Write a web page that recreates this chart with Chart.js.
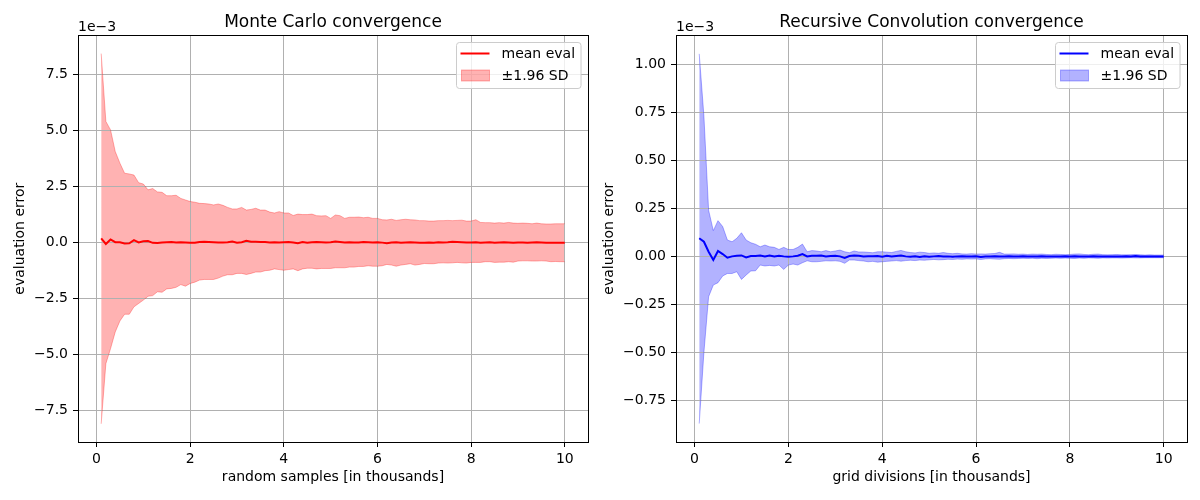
<!DOCTYPE html>
<html>
<head>
<meta charset="utf-8">
<script src="https://cdn.jsdelivr.net/npm/chart.js@4.4.1/dist/chart.umd.min.js"></script>
<style>
  body { margin: 0; background: #fff; }
  #wrap { position: relative; width: 1200px; height: 500px; }
  canvas { position: absolute; top: 0; }
</style>
</head>
<body>
<div id="wrap">
  <canvas id="mc" width="600" height="500" style="left:0"></canvas>
  <canvas id="rc" width="600" height="500" style="left:600px"></canvas>
</div>
<script>
// x positions, in thousands (samples for MC, grid divisions for RC)
const steps = [0.1,0.2,0.3,0.4,0.5,0.6,0.7,0.8,0.9,1.0,
  1.1,1.2,1.3,1.4,1.5,1.6,1.7,1.8,1.9,2.0,
  2.1,2.2,2.3,2.4,2.5,2.6,2.7,2.8,2.9,3.0,
  3.1,3.2,3.3,3.4,3.5,3.6,3.7,3.8,3.9,4.0,
  4.1,4.2,4.3,4.4,4.5,4.6,4.7,4.8,4.9,5.0,
  5.1,5.2,5.3,5.4,5.5,5.6,5.7,5.8,5.9,6.0,
  6.1,6.2,6.3,6.4,6.5,6.6,6.7,6.8,6.9,7.0,
  7.1,7.2,7.3,7.4,7.5,7.6,7.7,7.8,7.9,8.0,
  8.1,8.2,8.3,8.4,8.5,8.6,8.7,8.8,8.9,9.0,
  9.1,9.2,9.3,9.4,9.5,9.6,9.7,9.8,9.9,10.0];

// Monte Carlo, values in units of 1e-3
const mcMean = [0.18,-0.07,0.13,0.01,0.01,-0.05,-0.04,0.10,0.00,0.05,
  0.06,-0.02,-0.03,0.00,0.01,0.02,0.00,0.01,0.00,-0.01,
  -0.02,0.02,0.03,0.02,0.01,0.00,0.00,0.01,0.04,-0.01,
  0.01,0.07,0.03,0.03,0.02,0.02,0.00,0.01,0.00,0.01,
  0.02,0.00,-0.04,0.02,-0.01,0.01,0.02,0.01,0.00,0.01,
  0.04,0.02,0.00,0.01,0.00,0.00,0.02,0.01,0.00,0.01,
  -0.01,-0.04,0.00,0.01,-0.02,0.00,0.01,0.00,-0.01,-0.01,
  0.00,-0.01,0.01,0.00,0.01,0.03,0.02,0.01,0.00,0.00,
  0.01,-0.01,0.00,0.01,-0.01,0.00,0.01,0.00,-0.01,0.00,
  0.00,-0.01,0.00,0.01,0.00,-0.01,-0.02,-0.02,-0.01,-0.01];
const mcUpper = [8.41,5.39,5.01,4.05,3.53,3.08,3.05,3.00,2.66,2.60,
  2.34,2.40,2.25,2.23,2.08,2.08,2.10,1.96,1.89,1.82,
  1.79,1.74,1.73,1.71,1.67,1.71,1.65,1.56,1.49,1.49,
  1.56,1.44,1.47,1.52,1.44,1.44,1.35,1.31,1.37,1.31,
  1.31,1.20,1.26,1.24,1.24,1.26,1.19,1.18,1.19,1.07,
  1.22,1.19,1.07,1.12,1.12,1.13,1.10,1.12,1.07,1.07,
  1.01,1.00,1.03,0.98,1.01,1.03,1.01,1.00,0.97,0.97,
  0.95,0.95,0.97,0.97,0.98,0.97,0.98,0.99,0.95,0.95,
  1.01,0.89,0.88,0.88,0.86,0.88,0.86,0.89,0.86,0.85,
  0.86,0.85,0.83,0.86,0.83,0.82,0.82,0.83,0.83,0.83];
const mcLower = [-8.08,-5.40,-4.73,-3.99,-3.50,-3.20,-3.20,-2.87,-2.72,-2.57,
  -2.40,-2.37,-2.20,-2.22,-2.07,-2.05,-2.00,-1.88,-1.95,-1.83,
  -1.77,-1.68,-1.65,-1.65,-1.65,-1.59,-1.50,-1.44,-1.44,-1.38,
  -1.38,-1.43,-1.38,-1.32,-1.32,-1.26,-1.24,-1.18,-1.21,-1.24,
  -1.21,-1.18,-1.26,-1.18,-1.15,-1.15,-1.18,-1.16,-1.16,-1.16,
  -1.13,-1.13,-1.13,-1.10,-1.10,-1.07,-1.07,-1.04,-1.06,-1.06,
  -1.04,-0.98,-1.01,-1.06,-1.01,-0.98,-0.95,-1.01,-0.98,-0.94,
  -0.95,-0.95,-0.92,-0.91,-0.92,-0.91,-0.89,-0.91,-0.92,-0.89,
  -0.89,-0.89,-0.86,-0.86,-0.89,-0.88,-0.88,-0.86,-0.88,-0.83,
  -0.82,-0.82,-0.83,-0.83,-0.82,-0.83,-0.86,-0.85,-0.86,-0.86];

// Recursive convolution, values in units of 1e-3
const rcMean = [0.094,0.076,0.024,-0.019,0.028,0.012,-0.007,0.000,0.003,0.005,
  -0.005,0.002,0.002,0.005,0.000,0.005,0.000,0.003,0.000,-0.002,
  0.000,0.003,0.012,0.000,0.003,0.003,0.005,0.000,0.002,0.003,
  0.000,-0.008,0.002,0.004,0.003,0.000,0.001,0.001,0.002,-0.002,
  0.003,0.000,0.002,0.004,0.000,-0.002,0.001,-0.003,0.000,-0.002,
  0.000,0.002,-0.001,0.000,-0.002,0.000,0.001,-0.001,0.000,0.001,
  -0.003,-0.001,0.000,0.001,0.000,-0.001,0.001,0.000,0.000,0.001,
  0.000,-0.001,0.000,0.001,0.000,0.000,-0.001,0.000,0.001,0.000,
  0.001,0.000,-0.001,0.000,0.001,0.000,0.000,-0.001,0.000,0.000,
  0.000,0.001,0.000,0.002,0.000,0.000,-0.001,0.000,0.000,0.000];
const rcUpper = [1.054,0.73,0.24,0.134,0.186,0.155,0.085,0.076,0.094,0.123,
  0.085,0.071,0.063,0.050,0.059,0.050,0.047,0.036,0.047,0.036,
  0.036,0.047,0.064,0.024,0.030,0.028,0.024,0.030,0.024,0.028,
  0.033,0.024,0.019,0.028,0.023,0.023,0.021,0.019,0.024,0.024,
  0.022,0.020,0.026,0.031,0.024,0.020,0.018,0.022,0.020,0.016,
  0.018,0.016,0.020,0.016,0.014,0.016,0.013,0.012,0.014,0.012,
  0.013,0.012,0.014,0.015,0.021,0.012,0.012,0.013,0.011,0.012,
  0.010,0.012,0.011,0.012,0.010,0.009,0.011,0.010,0.009,0.010,
  0.012,0.013,0.010,0.009,0.011,0.012,0.009,0.008,0.009,0.010,
  0.008,0.008,0.009,0.010,0.008,0.007,0.008,0.007,0.007,0.007];
const rcLower = [-0.87,-0.50,-0.21,-0.149,-0.137,-0.102,-0.089,-0.089,-0.080,-0.120,
  -0.097,-0.076,-0.075,-0.045,-0.050,-0.047,-0.050,-0.045,-0.068,-0.045,
  -0.040,-0.045,-0.033,-0.023,-0.028,-0.028,-0.026,-0.023,-0.024,-0.023,
  -0.026,-0.036,-0.019,-0.019,-0.022,-0.024,-0.028,-0.026,-0.030,-0.028,
  -0.026,-0.024,-0.022,-0.025,-0.022,-0.020,-0.022,-0.019,-0.020,-0.018,
  -0.016,-0.018,-0.017,-0.015,-0.016,-0.014,-0.015,-0.013,-0.014,-0.013,
  -0.016,-0.013,-0.012,-0.014,-0.015,-0.012,-0.011,-0.012,-0.011,-0.010,
  -0.011,-0.010,-0.012,-0.010,-0.011,-0.010,-0.009,-0.010,-0.009,-0.010,
  -0.011,-0.009,-0.010,-0.008,-0.009,-0.010,-0.008,-0.009,-0.008,-0.008,
  -0.009,-0.008,-0.007,-0.008,-0.008,-0.007,-0.007,-0.007,-0.007,-0.007];

const xTicks = [0, 2, 4, 6, 8, 10];
const mcTicks = [-7.5, -5.0, -2.5, 0.0, 2.5, 5.0, 7.5];
const rcTicks = [-0.75, -0.50, -0.25, 0.00, 0.25, 0.50, 0.75, 1.00];

Chart.defaults.font.family = 'DejaVu Sans';
Chart.defaults.color = '#000';

const tickFont = { family: 'DejaVu Sans', size: 14 };
const minus = s => s.replace('-', '\u2212');

// matplotlib-like extras: grid above the band, box frame, offset text, legend
const frame = {
  id: 'frame',
  beforeDatasetsDraw(chart) {
    chart.scales.x.drawGrid(chart.chartArea);
    chart.scales.y.drawGrid(chart.chartArea);
  },
  afterDraw(chart, args, opts) {
    const { ctx, chartArea: a } = chart;
    ctx.save();
    ctx.strokeStyle = '#000';
    ctx.lineWidth = 1;
    ctx.strokeRect(Math.round(a.left) + 0.5, Math.round(a.top) + 0.5,
      Math.round(a.right - a.left), Math.round(a.bottom - a.top));

    ctx.fillStyle = '#000';
    ctx.font = '14px "DejaVu Sans"';
    ctx.textAlign = 'left';
    ctx.textBaseline = 'alphabetic';
    ctx.fillText(opts.offsetText, a.left, a.top - 4);

    // legend box, upper right
    const items = chart.data.datasets.filter(d => d.label);
    const textW = Math.max(...items.map(d => ctx.measureText(d.label).width));
    const w = 45 + textW + 6, h = 46;
    const x0 = Math.round(a.right - 7 - w) + 0.5, y0 = Math.round(a.top + 7) + 0.5;
    ctx.beginPath();
    if (ctx.roundRect) ctx.roundRect(x0, y0, w, h, 3); else ctx.rect(x0, y0, w, h);
    ctx.fillStyle = 'rgba(255,255,255,0.8)';
    ctx.fill();
    ctx.strokeStyle = '#cccccc';
    ctx.stroke();

    ctx.textBaseline = 'middle';
    items.forEach((d, i) => {
      const cy = y0 + 11 + i * 22;
      if (d.fill) {
        ctx.fillStyle = d.backgroundColor;
        ctx.fillRect(x0 + 5, cy - 5.5, 28, 11);
        ctx.strokeStyle = d.borderColor;
        ctx.strokeRect(x0 + 5, cy - 5.5, 28, 11);
      } else {
        ctx.strokeStyle = d.borderColor;
        ctx.lineWidth = 2;
        ctx.beginPath();
        ctx.moveTo(x0 + 4, cy);
        ctx.lineTo(x0 + 33, cy);
        ctx.stroke();
        ctx.lineWidth = 1;
      }
      ctx.fillStyle = '#000';
      ctx.fillText(d.label, x0 + 45, cy + 1);
    });
    ctx.restore();
  }
};

function convergenceChart(id, p) {
  const pts = arr => steps.map((x, i) => ({ x: x, y: arr[i] }));
  return new Chart(document.getElementById(id), {
    type: 'line',
    data: {
      datasets: [
        { label: 'mean eval', data: pts(p.mean), borderColor: p.line, borderWidth: 2,
          pointRadius: 0, fill: false },
        { label: '\u00b11.96 SD', data: pts(p.upper), borderColor: p.band, backgroundColor: p.band,
          borderWidth: 1, pointRadius: 0, fill: '+1' },
        { label: '', data: pts(p.lower), borderColor: p.band, borderWidth: 1,
          pointRadius: 0, fill: false }
      ]
    },
    options: {
      responsive: false,
      animation: false,
      devicePixelRatio: 1,
      layout: { padding: { left: 0, right: p.padRight, top: 0, bottom: 0 } },
      plugins: {
        legend: { display: false },
        tooltip: { enabled: false },
        filler: { drawTime: 'beforeDatasetsDraw' },
        title: {
          display: true, text: p.title, color: '#000', fullSize: false,
          font: { family: 'DejaVu Sans', size: 17, weight: 'normal' },
          padding: { top: 12, bottom: 3 }
        },
        frame: { offsetText: '1e\u22123' }
      },
      scales: {
        x: {
          type: 'linear', min: -0.395, max: 10.495,
          afterBuildTicks: s => { s.ticks = xTicks.map(v => ({ value: v })); },
          afterFit: s => { s.height = 58; },
          ticks: { font: tickFont, color: '#000', padding: 4, autoSkip: false, maxRotation: 0,
            callback: v => String(v) },
          grid: { color: '#b0b0b0', lineWidth: 1, tickColor: '#000', tickLength: 5, tickWidth: 1 },
          border: { display: false },
          title: { display: true, text: p.xLabel, color: '#000', font: tickFont,
            padding: { top: 0, bottom: 14.5 } }
        },
        y: {
          type: 'linear', min: p.yMin, max: p.yMax,
          afterBuildTicks: s => { s.ticks = p.yTicks.map(v => ({ value: v })); },
          afterFit: s => { s.width = p.yWidth; },
          ticks: { font: tickFont, color: '#000', padding: 5,
            callback: v => minus(v.toFixed(p.digits)) },
          grid: { color: '#b0b0b0', lineWidth: 1, tickColor: '#000', tickLength: 5, tickWidth: 1 },
          border: { display: false },
          title: { display: true, text: 'evaluation error', color: '#000', font: tickFont,
            padding: { top: p.yTitlePad, bottom: 0 } }
        }
      }
    },
    plugins: [frame]
  });
}

convergenceChart('mc', {
  title: 'Monte Carlo convergence', xLabel: 'random samples [in thousands]',
  mean: mcMean, upper: mcUpper, lower: mcLower,
  line: '#ff0000', band: 'rgba(255,0,0,0.3)',
  yMin: -8.89, yMax: 9.22, yTicks: mcTicks, digits: 1,
  yWidth: 78, yTitlePad: 11.6, padRight: 12
});

convergenceChart('rc', {
  title: 'Recursive Convolution convergence', xLabel: 'grid divisions [in thousands]',
  mean: rcMean, upper: rcUpper, lower: rcLower,
  line: '#0000ff', band: 'rgba(0,0,255,0.3)',
  yMin: -0.966, yMax: 1.15, yTicks: rcTicks, digits: 2,
  yWidth: 76, yTitlePad: 0.6, padRight: 13
});
</script>
</body>
</html>
